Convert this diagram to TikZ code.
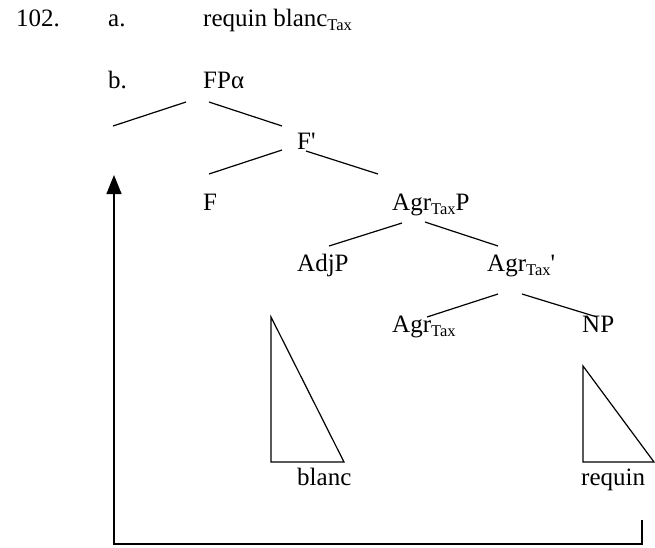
\documentclass[tikz,border=0pt]{standalone}
\usepackage{fontspec}
\setmainfont{Liberation Serif}
\usetikzlibrary{positioning, arrows.meta, calc}

\newcommand{\taxsub}{\raisebox{-4pt}{\fontsize{16.5}{18}\selectfont Tax}}

\begin{document}
\begin{tikzpicture}[
  x=1pt, y=-1pt,
  font=\fontsize{25}{30}\selectfont,
  lbl/.style={anchor=base west, inner sep=0pt},
  branch/.style={line width=1.2pt},
  move/.style={line width=1.2pt, -{Triangle[width=15pt, length=19pt]}},
]
\useasboundingbox (0, 0) rectangle (655, 547);

% Example numbers
\node[lbl] (num) at (16, 26)  {102.};
\node[lbl] (ia)  at (108, 26) {a.};
\node[lbl] (ex)  at (203, 26) {requin blanc\taxsub};
\node[lbl] (ib)  at (108, 88) {b.};

% Tree labels
\node[lbl] (FP)     at (203, 88)    {FPα};
\node[lbl] (Fbar)   at (297, 149)   {F\textquotesingle};
\node[lbl] (F)      at (203, 210)   {F};
\node[lbl] (AgrP)   at (392, 210)   {Agr\taxsub P};
\node[lbl] (AdjP)   at (297, 271.5) {AdjP};
\node[lbl] (Agrbar) at (487, 271.5) {Agr\taxsub\textquotesingle};
\node[lbl] (Agr)    at (392, 332)   {Agr\taxsub};
\node[lbl] (NP)     at (582, 332)   {NP};
\node[lbl] (blanc)  at (297, 485)   {blanc};
\node[lbl] (requin) at (581, 485)   {requin};

% Empty specifier and landing site
\coordinate (spec) at (113, 126);
\coordinate (land) at (114, 175);

% Branches
\draw[branch] ([shift={(-17,14)}]FP.base west) -- (spec);
\draw[branch] ([shift={(6,14)}]FP.base west)
           -- ([shift={(-15,-23)}]Fbar.base west);
\draw[branch] ([shift={(-15,1)}]Fbar.base west)
           -- ([shift={(6,-36)}]F.base west);
\draw[branch] ([shift={(9,2)}]Fbar.base west)
           -- ([shift={(-14,-36)}]AgrP.base west);
\draw[branch] ([shift={(10,13)}]AgrP.base west)
           -- ([shift={(32,-25.5)}]AdjP.base west);
\draw[branch] ([shift={(33,12)}]AgrP.base west)
           -- ([shift={(11,-25.5)}]Agrbar.base west);
\draw[branch] ([shift={(11,22.5)}]Agrbar.base west)
           -- ([shift={(35,-15)}]Agr.base west);
\draw[branch] ([shift={(35,22.5)}]Agrbar.base west)
           -- ([shift={(15,-15)}]NP.base west);

% Triangles
\draw[branch] (271, 317) -- (271, 462) -- (344, 462) -- cycle;
\draw[branch] (583, 366) -- (583, 462) -- (654, 462) -- cycle;

% Movement of requin
\draw[move] ([shift={(61,35)}]requin.base west) -- ++(0, 24) -| (land);
\end{tikzpicture}
\end{document}
